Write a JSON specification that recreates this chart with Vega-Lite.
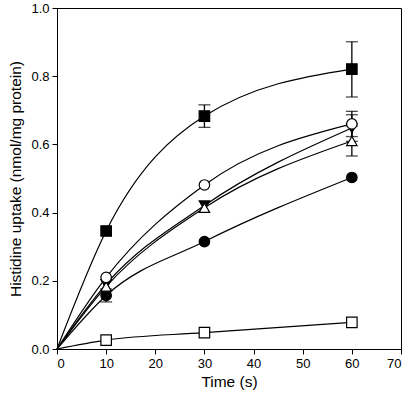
{
  "$schema": "https://vega.github.io/schema/vega-lite/v6.json",
  "autosize": {"type": "none"},
  "width": 344,
  "height": 341,
  "padding": {"left": 57, "top": 8, "right": 7, "bottom": 51},
  "background": "white",
  "config": {
    "view": {"stroke": "black", "strokeWidth": 1},
    "font": "Liberation Sans",
    "axis": {
      "grid": false,
      "domainColor": "black",
      "tickColor": "black",
      "labelColor": "black",
      "titleColor": "black",
      "labelFont": "Liberation Sans",
      "titleFont": "Liberation Sans",
      "labelFontSize": 13,
      "titleFontSize": 15.5,
      "titleFontWeight": "normal",
      "tickSize": 5,
      "domainWidth": 1,
      "tickWidth": 1
    }
  },
  "datasets": {
    "pts": [
      {"series": "D", "time": 0, "value": 0},
      {"series": "D", "time": 10, "value": 0.19},
      {"series": "D", "time": 30, "value": 0.421},
      {"series": "D", "time": 60, "value": 0.648},
      {"series": "E", "time": 0, "value": 0},
      {"series": "E", "time": 10, "value": 0.157},
      {"series": "E", "time": 30, "value": 0.315},
      {"series": "E", "time": 60, "value": 0.503},
      {"series": "C", "time": 0, "value": 0},
      {"series": "C", "time": 10, "value": 0.183},
      {"series": "C", "time": 30, "value": 0.414},
      {"series": "C", "time": 60, "value": 0.61},
      {"series": "B", "time": 0, "value": 0},
      {"series": "B", "time": 10, "value": 0.21},
      {"series": "B", "time": 30, "value": 0.481},
      {"series": "B", "time": 60, "value": 0.66},
      {"series": "A", "time": 0, "value": 0},
      {"series": "A", "time": 10, "value": 0.346},
      {"series": "A", "time": 30, "value": 0.683},
      {"series": "A", "time": 60, "value": 0.821},
      {"series": "F", "time": 0, "value": 0},
      {"series": "F", "time": 10, "value": 0.026},
      {"series": "F", "time": 30, "value": 0.048},
      {"series": "F", "time": 60, "value": 0.078}
    ],
    "err": [
      {"series": "A", "time": 30, "lo": 0.650, "hi": 0.716},
      {"series": "A", "time": 60, "lo": 0.739, "hi": 0.901},
      {"series": "B", "time": 60, "lo": 0.623, "hi": 0.697},
      {"series": "D", "time": 60, "lo": 0.609, "hi": 0.687},
      {"series": "C", "time": 60, "lo": 0.566, "hi": 0.654},
      {"series": "E", "time": 10, "lo": 0.138, "hi": 0.176}
    ]
  },
  "encoding": {
    "x": {
      "field": "time", "type": "quantitative",
      "scale": {"domain": [0, 70], "nice": false},
      "axis": {"values": [0, 10, 20, 30, 40, 50, 60, 70], "title": "Time (s)", "labelPadding": 3, "titlePadding": 4}
    }
  },
  "layer": [
    {
      "data": {"name": "pts"},
      "mark": {"type": "line", "interpolate": "monotone", "color": "black", "strokeWidth": 1.2},
      "encoding": {
        "y": {
          "field": "value", "type": "quantitative",
          "scale": {"domain": [0, 1], "nice": false},
          "axis": {"values": [0, 0.2, 0.4, 0.6, 0.8, 1.0], "format": ".1f", "title": "Histidine uptake (nmol/mg protein)", "labelPadding": 3, "titlePadding": 7}
        },
        "detail": {"field": "series"}
      }
    },
    {
      "data": {"name": "err"},
      "mark": {"type": "rule", "color": "black", "strokeWidth": 1.3},
      "encoding": {
        "y": {"field": "lo", "type": "quantitative"},
        "y2": {"field": "hi"}
      }
    },
    {
      "data": {"name": "err"},
      "mark": {"type": "tick", "orient": "horizontal", "color": "black", "size": 12, "thickness": 1.3},
      "encoding": {"y": {"field": "lo", "type": "quantitative"}}
    },
    {
      "data": {"name": "err"},
      "mark": {"type": "tick", "orient": "horizontal", "color": "black", "size": 12, "thickness": 1.3},
      "encoding": {"y": {"field": "hi", "type": "quantitative"}}
    },
    {
      "data": {"name": "pts"},
      "transform": [{"filter": "datum.time > 0"}],
      "mark": {"type": "point", "filled": true, "stroke": "black", "strokeWidth": 1.2, "opacity": 1, "size": 110},
      "encoding": {
        "y": {"field": "value", "type": "quantitative"},
        "shape": {
          "field": "series", "type": "nominal", "legend": null,
          "scale": {"domain": ["A", "B", "C", "D", "E", "F"], "range": ["square", "circle", "triangle-up", "triangle-down", "circle", "square"]}
        },
        "fill": {
          "field": "series", "type": "nominal", "legend": null,
          "scale": {"domain": ["A", "B", "C", "D", "E", "F"], "range": ["black", "white", "white", "black", "black", "white"]}
        }
      }
    }
  ]
}
